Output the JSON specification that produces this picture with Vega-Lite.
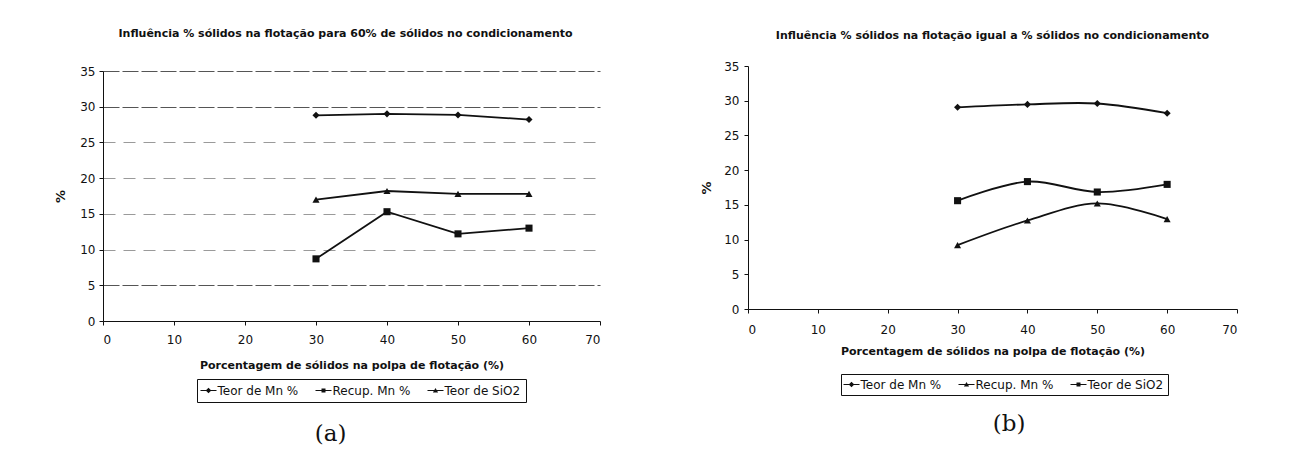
{
  "$schema": "https://vega.github.io/schema/vega-lite/v6.json",
  "background": "white",
  "padding": {"left": 54, "top": 28, "right": 5, "bottom": 0},
  "spacing": 99,
  "config": {
    "font": "DejaVu Sans",
    "view": {"stroke": null},
    "axis": {
      "labelFont": "DejaVu Sans", "labelFontSize": 12, "labelColor": "#111",
      "titleFont": "DejaVu Sans", "titleFontSize": 11, "titleFontWeight": "bold", "titleColor": "#111",
      "domainColor": "#111", "tickColor": "#111", "tickSize": 4, "domainWidth": 1
    },
    "title": {"font": "DejaVu Sans", "fontSize": 11, "fontWeight": "bold", "color": "#111", "offset": 0}
  },
  "datasets": {
    "a": [
      {"x": 30, "s": "Teor de Mn %", "v": 28.8},
      {"x": 40, "s": "Teor de Mn %", "v": 29.0},
      {"x": 50, "s": "Teor de Mn %", "v": 28.85},
      {"x": 60, "s": "Teor de Mn %", "v": 28.2},
      {"x": 30, "s": "Recup. Mn %", "v": 8.7},
      {"x": 40, "s": "Recup. Mn %", "v": 15.3},
      {"x": 50, "s": "Recup. Mn %", "v": 12.2},
      {"x": 60, "s": "Recup. Mn %", "v": 13.0},
      {"x": 30, "s": "Teor de SiO2", "v": 17.0},
      {"x": 40, "s": "Teor de SiO2", "v": 18.2},
      {"x": 50, "s": "Teor de SiO2", "v": 17.8},
      {"x": 60, "s": "Teor de SiO2", "v": 17.8}
    ],
    "b": [
      {"x": 30, "s": "Teor de Mn %", "v": 29.05},
      {"x": 40, "s": "Teor de Mn %", "v": 29.47},
      {"x": 50, "s": "Teor de Mn %", "v": 29.6},
      {"x": 60, "s": "Teor de Mn %", "v": 28.2},
      {"x": 30, "s": "Recup. Mn %", "v": 9.2},
      {"x": 40, "s": "Recup. Mn %", "v": 12.75},
      {"x": 50, "s": "Recup. Mn %", "v": 15.2},
      {"x": 60, "s": "Recup. Mn %", "v": 12.95},
      {"x": 30, "s": "Teor de SiO2", "v": 15.6},
      {"x": 40, "s": "Teor de SiO2", "v": 18.35},
      {"x": 50, "s": "Teor de SiO2", "v": 16.85},
      {"x": 60, "s": "Teor de SiO2", "v": 17.95}
    ]
  },
  "hconcat": [
    {
      "title": {"text": "(a)", "orient": "bottom", "font": "DejaVu Serif", "fontSize": 23, "fontWeight": "normal", "color": "#111", "offset": 20, "dx": 3, "anchor": "middle"},
      "spacing": 0,
      "vconcat": [
        {
          "width": 497,
          "height": 26,
          "title": {"text": "Influência % sólidos na flotação para 60% de sólidos no condicionamento", "anchor": "middle", "frame": "group", "dx": -6, "offset": 0},
          "data": {"values": []},
          "mark": "rule",
          "encoding": {}
        },
        {
          "width": 497,
          "height": 250,
          "data": {"name": "a"},
          "encoding": {
            "x": {"field": "x", "type": "quantitative", "scale": {"domain": [0, 70], "nice": false},
              "axis": {"values": [0, 10, 20, 30, 40, 50, 60, 70], "title": "Porcentagem de  sólidos na polpa de flotação (%)", "grid": false, "labelPadding": 9.5, "titlePadding": 14}},
            "y": {"field": "v", "type": "quantitative", "scale": {"domain": [0, 35], "nice": false},
              "axis": {"values": [0, 5, 10, 15, 20, 25, 30, 35], "title": "%", "titleFontSize": 13, "grid": true,
                "gridColor": {"condition": {"test": "datum.value == 35 || datum.value == 30 || datum.value == 5", "value": "#555"}, "value": "#9a9a9a"},
                "gridDash": {"condition": {"test": "datum.value == 35 || datum.value == 30 || datum.value == 5", "value": [16, 3]}, "value": [12, 8]},
                "gridWidth": 1.2, "labelPadding": 4, "titlePadding": 12}}
          },
          "layer": [
            {"mark": {"type": "line", "color": "#111", "strokeWidth": 1.8},
              "encoding": {"detail": {"field": "s", "type": "nominal"}}},
            {"mark": {"type": "point", "filled": true, "color": "#111", "size": 50, "opacity": 1},
              "encoding": {"shape": {"field": "s", "type": "nominal", "scale": {"domain": ["Teor de Mn %", "Recup. Mn %", "Teor de SiO2"], "range": ["diamond", "square", "triangle-up"]}, "legend": null}}},
            {"transform": [{"filter": "false"}],
              "mark": {"type": "point", "filled": true, "color": "#111"},
              "encoding": {"shape": {"field": "s", "type": "nominal",
                "scale": {"domain": ["Teor de Mn %", "Recup. Mn %", "Teor de SiO2"], "range": ["M-2,-0.13H2V0.13H-2ZM0,-0.7L0.7,0L0,0.7L-0.7,0Z", "M-2,-0.13H2V0.13H-2ZM-0.5,-0.5H0.5V0.5H-0.5Z", "M-2,-0.13H2V0.13H-2ZM0,-0.65L0.65,0.5H-0.65Z"]},
                "legend": {"orient": "none", "legendX": 94, "legendY": 308, "direction": "horizontal", "title": null, "strokeColor": "#111", "padding": 5.5, "symbolSize": 64, "symbolStrokeWidth": 0, "symbolOpacity": 1, "symbolFillColor": "#111", "labelFont": "DejaVu Sans", "labelFontSize": 12, "labelColor": "#111", "columnPadding": 17, "labelOffset": 3}}}}
          ],
          "resolve": {"scale": {"shape": "independent"}}
        }
      ]
    },
    {
      "title": {"text": "(b)", "orient": "bottom", "font": "DejaVu Serif", "fontSize": 23, "fontWeight": "normal", "color": "#111", "offset": 17, "dx": 40, "anchor": "middle"},
      "spacing": 0,
      "vconcat": [
        {
          "width": 489,
          "height": 21,
          "title": {"text": "Influência % sólidos na flotação igual a % sólidos no condicionamento", "anchor": "middle", "frame": "group", "dx": 0, "offset": -2},
          "data": {"values": []},
          "mark": "rule",
          "encoding": {}
        },
        {
          "width": 489,
          "height": 243,
          "data": {"name": "b"},
          "encoding": {
            "x": {"field": "x", "type": "quantitative", "scale": {"domain": [0, 70], "nice": false},
              "axis": {"values": [0, 10, 20, 30, 40, 50, 60, 70], "title": "Porcentagem de sólidos na polpa de  flotação (%)", "grid": false, "labelPadding": 11, "titlePadding": 10}},
            "y": {"field": "v", "type": "quantitative", "scale": {"domain": [0, 35], "nice": false},
              "axis": {"values": [0, 5, 10, 15, 20, 25, 30, 35], "title": "%", "titleFontSize": 13, "grid": false, "labelPadding": 5, "titlePadding": 10}}
          },
          "layer": [
            {"mark": {"type": "line", "color": "#111", "strokeWidth": 1.8, "interpolate": "cardinal"},
              "encoding": {"detail": {"field": "s", "type": "nominal"}}},
            {"mark": {"type": "point", "filled": true, "color": "#111", "size": 50, "opacity": 1},
              "encoding": {"shape": {"field": "s", "type": "nominal", "scale": {"domain": ["Teor de Mn %", "Recup. Mn %", "Teor de SiO2"], "range": ["diamond", "triangle-up", "square"]}, "legend": null}}},
            {"transform": [{"filter": "false"}],
              "mark": {"type": "point", "filled": true, "color": "#111"},
              "encoding": {"shape": {"field": "s", "type": "nominal",
                "scale": {"domain": ["Teor de Mn %", "Recup. Mn %", "Teor de SiO2"], "range": ["M-2,-0.13H2V0.13H-2ZM0,-0.7L0.7,0L0,0.7L-0.7,0Z", "M-2,-0.13H2V0.13H-2ZM0,-0.65L0.65,0.5H-0.65Z", "M-2,-0.13H2V0.13H-2ZM-0.5,-0.5H0.5V0.5H-0.5Z"]},
                "legend": {"orient": "none", "legendX": 93, "legendY": 308, "direction": "horizontal", "title": null, "strokeColor": "#111", "padding": 4.5, "symbolSize": 64, "symbolStrokeWidth": 0, "symbolOpacity": 1, "symbolFillColor": "#111", "labelFont": "DejaVu Sans", "labelFontSize": 12, "labelColor": "#111", "columnPadding": 17, "labelOffset": 3}}}}
          ],
          "resolve": {"scale": {"shape": "independent"}}
        }
      ]
    }
  ]
}
